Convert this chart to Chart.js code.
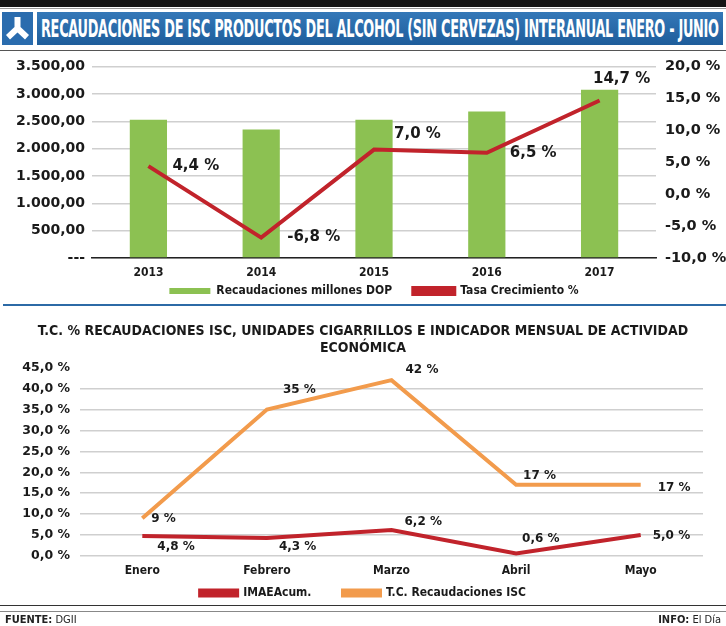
<!DOCTYPE html>
<html>
<head>
<meta charset="utf-8">
<script src="https://cdn.jsdelivr.net/npm/chart.js@4.4.0/dist/chart.umd.min.js"></script>
<style>
  body { margin: 0; background: #fff; width: 726px; height: 626px; position: relative; overflow: hidden;
         font-family: "DejaVu Sans Condensed", "DejaVu Sans", sans-serif; }
  .abs { position: absolute; }
  #topband { left: 0; top: 0; width: 726px; height: 7px; background: #141414; }
  #topline { left: 0; top: 8px; width: 726px; height: 1px; background: #9a9a9a; }
  #logo { left: 2px; top: 12px; width: 31px; height: 33px; background: #2a6cae; }
  #titlebar { left: 37px; top: 12px; width: 686px; height: 33px; overflow: hidden;
              background: linear-gradient(#3478b8, #1e5d9b); }
  #titletext { left: 4px; top: 2px; color: #fff; font-weight: bold; font-size: 25px; white-space: nowrap;
               transform-origin: 0 0; letter-spacing: -0.5px; }
  #rule1 { left: 0; top: 50px; width: 726px; height: 1px; background: #555; }
  #sep { left: 3px; top: 304px; width: 723px; height: 2px; background: #2c6aa6; }
  #foot1 { left: 0; top: 605px; width: 726px; height: 1px; background: #333; }
  #foot2 { left: 0; top: 611px; width: 726px; height: 1px; background: #888; }
  .foot { top: 613px; font-size: 11px; color: #222; }
  .foot b { font-weight: bold; }
  #fuente { left: 5px; }
  #info { right: 5px; }
  #wrap1 { left: 11px; top: 49px; width: 726px; height: 258px; }
  #wrap2 { left: 0; top: 308px; width: 726px; height: 301px; }
</style>
</head>
<body>
<div class="abs" id="topband"></div>
<div class="abs" id="topline"></div>
<div class="abs" id="logo">
  <svg width="31" height="33" viewBox="0 0 31 33">
    <path d="M12.5 5 H18.5 V15 L27 23 L23 27.5 L15.5 20.5 L8 27.5 L4 23 L12.5 15 Z" fill="#fff"/>
  </svg>
</div>
<div class="abs" id="titlebar">
  <span class="abs" id="titletext">RECAUDACIONES DE ISC PRODUCTOS DEL ALCOHOL (SIN CERVEZAS) INTERANUAL ENERO - JUNIO</span>
</div>
<div class="abs" id="rule1"></div>
<div class="abs" id="wrap1"><canvas id="chart1"></canvas></div>
<div class="abs" id="sep"></div>
<div class="abs" id="wrap2"><canvas id="chart2"></canvas></div>
<div class="abs" id="foot1"></div>
<div class="abs" id="foot2"></div>
<div class="abs foot" id="fuente"><b>FUENTE:</b> DGII</div>
<div class="abs foot" id="info"><b>INFO:</b> El Día</div>

<script>
// --- datos grafico 1
const years = ['2013', '2014', '2015', '2016', '2017'];
const recaudaciones = [2530, 2350, 2530, 2680, 3080];
const tasaCrecimiento = [4.4, -6.8, 7.0, 6.5, 14.7];
const leftAxis = { min: 0, max: 3500, step: 500 };
const rightAxis = { min: -10, max: 20, step: 5 };

// --- datos grafico 2
const meses = ['Enero', 'Febrero', 'Marzo', 'Abril', 'Mayo'];
const imaeAcum = [4.8, 4.3, 6.2, 0.6, 5.0];
const tcRecaudacionesISC = [9, 35, 42, 17, 17];
const pctAxis = { min: 0, max: 45, step: 5 };

const GREEN = '#8cc152';
const RED = '#c1232b';
const ORANGE = '#f29b4c';
const GRID = '#cfcfcf';
const TXT = '#1a1a1a';
const NUM_FONT = '"DejaVu Sans", sans-serif';
const COND_FONT = '"DejaVu Sans Condensed", "DejaVu Sans", sans-serif';

function miles(v) {
  // formato 3.500,00
  const parts = v.toFixed(2).split('.');
  return parts[0].replace(/\B(?=(\d{3})+(?!\d))/g, '.') + ',' + parts[1];
}
const pct1 = v => v.toFixed(1).replace('.', ',') + ' %';

// separacion extra entre items de la leyenda (el padding tambien mueve la vertical)
// skip = indice (en orden generado) del item que queda ultimo en pantalla
const spacedLabels = (gap, skip) => chart => {
  const items = Chart.defaults.plugins.legend.labels.generateLabels(chart);
  const last = skip === undefined ? items.length - 1 : skip;
  return items.map((l, i) => i !== last ? Object.assign(l, { text: l.text + gap }) : l);
};

// etiquetas de valores, dibujadas junto a cada punto
const valueLabels = {
  id: 'valueLabels',
  afterDatasetsDraw(chart, args, opts) {
    const ctx = chart.ctx;
    (opts.sets || []).forEach(s => {
      const meta = chart.getDatasetMeta(s.dataset);
      const data = chart.data.datasets[s.dataset].data;
      ctx.save();
      ctx.font = opts.font;
      ctx.fillStyle = TXT;
      ctx.textBaseline = 'middle';
      meta.data.forEach((el, i) => {
        const off = s.offsets[i];
        ctx.textAlign = off[2] || 'left';
        ctx.fillText(s.format(data[i]), el.x + off[0], el.y + off[1]);
      });
      ctx.restore();
    });
  }
};

function initCharts() {
  try {
    const title = document.getElementById('titletext');
    title.style.transform = 'scaleX(' + (678 / title.scrollWidth) + ')';

    new Chart(document.getElementById('chart1'), {
      type: 'bar',
      data: {
        labels: years,
        datasets: [
          { type: 'bar', label: 'Recaudaciones millones DOP', data: recaudaciones, yAxisID: 'y',
            backgroundColor: GREEN, barPercentage: 0.33, categoryPercentage: 1, order: 1 },
          { type: 'line', label: 'Tasa Crecimiento %', data: tasaCrecimiento, yAxisID: 'y2',
            borderColor: RED, backgroundColor: RED, borderWidth: 4, pointRadius: 0, tension: 0, order: 0 }
        ]
      },
      options: {
        responsive: true,
        maintainAspectRatio: false,
        animation: false,
        layout: { padding: { top: 11, left: 0, right: 0, bottom: 0 } },
        scales: {
          x: {
            grid: { display: false, drawTicks: false },
            border: { color: '#222', width: 1.5 },
            ticks: { color: TXT, font: { family: COND_FONT, size: 12, weight: 'bold' }, padding: 8 },
            afterFit: s => { s.height = 22; }
          },
          y: {
            position: 'left', min: leftAxis.min, max: leftAxis.max,
            grid: { color: GRID, lineWidth: 1.5, drawTicks: false },
            border: { display: false },
            ticks: { stepSize: leftAxis.step, color: TXT, padding: 7, autoSkip: false,
                     font: { family: NUM_FONT, size: 14, weight: 'bold' },
                     callback: v => v === 0 ? '---' : miles(v) },
            afterFit: s => { s.width = 81; }
          },
          y2: {
            position: 'right', min: rightAxis.min, max: rightAxis.max,
            grid: { display: false, drawTicks: false },
            border: { display: false },
            ticks: { stepSize: rightAxis.step, color: TXT, padding: 9, autoSkip: false,
                     font: { family: NUM_FONT, size: 14.5, weight: 'bold' },
                     callback: v => pct1(v) },
            afterFit: s => { s.width = 81; }
          }
        },
        plugins: {
          tooltip: { enabled: false },
          legend: {
            position: 'bottom',
            reverse: true,
            labels: { boxWidth: 41, boxHeight: 6, padding: 5, color: TXT,
                      font: { family: COND_FONT, size: 12, weight: 'bold' },
                      generateLabels: spacedLabels('\u2002\u2002\u2002', 0) }
          },
          valueLabels: {
            font: 'bold 15px ' + NUM_FONT,
            sets: [{ dataset: 1, format: pct1,
                     offsets: [[24, 0], [26, 0], [20, -15], [23, 0], [22, -21, 'center']] }]
          }
        }
      },
      plugins: [valueLabels]
    });

    new Chart(document.getElementById('chart2'), {
      type: 'line',
      data: {
        labels: meses,
        datasets: [
          { label: 'IMAEAcum.', data: imaeAcum, borderColor: RED, backgroundColor: RED,
            borderWidth: 4, pointRadius: 0, tension: 0 },
          { label: 'T.C. Recaudaciones ISC', data: tcRecaudacionesISC, borderColor: ORANGE,
            backgroundColor: ORANGE, borderWidth: 4, pointRadius: 0, tension: 0 }
        ]
      },
      options: {
        responsive: true,
        maintainAspectRatio: false,
        animation: false,
        layout: { padding: 0 },
        scales: {
          x: {
            offset: true,
            grid: { display: false, drawTicks: false },
            border: { display: false },
            ticks: { color: TXT, font: { family: COND_FONT, size: 12, weight: 'bold' }, padding: 8 },
            afterFit: s => { s.height = 21; }
          },
          y: {
            min: pctAxis.min, max: pctAxis.max,
            grid: { color: c => c.tick.value === pctAxis.max ? 'rgba(0,0,0,0)' : GRID, lineWidth: 1.5, drawTicks: false },
            border: { display: false },
            ticks: { stepSize: pctAxis.step, color: TXT, padding: 10, autoSkip: false,
                     font: { family: NUM_FONT, size: 12.5, weight: 'bold' },
                     callback: v => pct1(v) },
            afterFit: s => { s.width = 80; }
          },
          margen: {
            type: 'linear', position: 'right', display: true,
            grid: { display: false, drawTicks: false },
            border: { display: false },
            ticks: { display: false },
            afterFit: s => { s.width = 23; }
          }
        },
        plugins: {
          tooltip: { enabled: false },
          title: {
            display: true,
            text: ['T.C. % RECAUDACIONES ISC, UNIDADES CIGARRILLOS E INDICADOR MENSUAL DE ACTIVIDAD', 'ECONÓMICA'],
            color: TXT,
            font: { family: COND_FONT, size: 14, weight: 'bold', lineHeight: 1.2 },
            padding: { top: 15, bottom: 11 }
          },
          legend: {
            position: 'bottom',
            labels: { boxWidth: 37, boxHeight: 5, padding: 10, color: TXT,
                      font: { family: COND_FONT, size: 12, weight: 'bold' },
                      generateLabels: spacedLabels('\u2002\u2002\u2002\u2002') }
          },
          valueLabels: {
            font: 'bold 12px ' + NUM_FONT,
            sets: [
              { dataset: 0, format: pct1,
                offsets: [[15, 11], [12, 9], [13, -8], [6, -15], [12, 1]] },
              { dataset: 1, format: v => Math.round(v) + ' %',
                offsets: [[9, 1], [16, -20], [14, -10], [7, -9], [17, 3]] }
            ]
          }
        }
      },
      plugins: [valueLabels]
    });
  } catch (e) {
    document.body.insertAdjacentHTML('beforeend', '<pre>' + e.message + '</pre>');
  }
}

document.addEventListener('DOMContentLoaded', initCharts);
</script>
</body>
</html>
